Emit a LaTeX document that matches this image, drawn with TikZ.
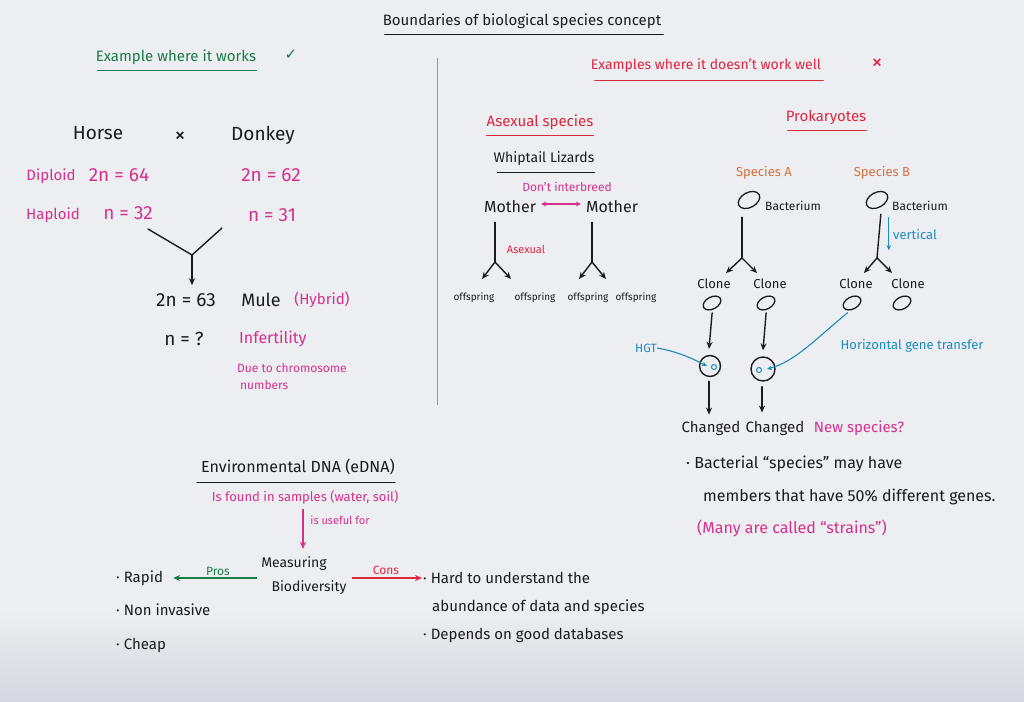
\documentclass[tikz,border=0pt]{standalone}
\usepackage{fontspec}
\setmainfont{Fira Sans}
\newfontfamily\symfont{DejaVu Sans}
\usetikzlibrary{arrows.meta,shapes.geometric,calc}
\definecolor{board}{RGB}{237,238,241}
\definecolor{boardlow}{RGB}{212,215,222}
\definecolor{ink}{RGB}{28,28,32}
\definecolor{pinkink}{RGB}{214,48,140}
\definecolor{grn}{RGB}{28,122,72}
\definecolor{redink}{RGB}{222,38,62}
\definecolor{orng}{RGB}{216,112,62}
\definecolor{blueink}{RGB}{28,140,192}
\definecolor{divider}{RGB}{150,150,155}
\begin{document}
\begin{tikzpicture}[x=1pt,y=-1pt,
  lbl/.style={inner sep=0pt, text=ink, font=\fontsize{#1}{#1}\selectfont},
  ln/.style={line width=1.4pt, draw=ink, line cap=round},
  arr/.style={ln, -{Stealth[length=7pt,width=6pt]}},
  uline/.style={line width=1.2pt, line cap=round},
  cell/.style={draw=ink, line width=1.3pt, ellipse, inner sep=0pt, minimum width=19pt, minimum height=12pt, rotate=28},
  ring/.style={draw=ink, line width=1.4pt, circle, inner sep=0pt},
  barr/.style={draw=blueink, line width=1.1pt, -{Stealth[length=5pt,width=4.5pt]}},
  dot/.style={draw=blueink, line width=1pt, circle, inner sep=0pt, minimum size=5pt}]
\useasboundingbox (0,0) rectangle (1024,701);
\fill[board] (0,0) rectangle (1024,701);
\shade[top color=board, bottom color=boardlow] (0,610) rectangle (1024,701);

% title
\node[lbl=15] (title) at (522,21) {Boundaries of biological species concept};
\draw[uline, ink] ($(title.south west)+(2,6)$) -- ($(title.south east)+(2,6)$);
\draw[divider, line width=1pt] (437,58) -- (437,405);

% left: where it works
\node[lbl=15, text=grn] (works) at (176,57) {Example where it works};
\node[inner sep=0pt, text=grn, font=\symfont\fontsize{15}{15}\selectfont] (tick) at (291,55) {✓};
\draw[uline, grn] ($(works.south west)+(2,6)$) -- ($(works.south east)+(0,6)$);

\node[lbl=19] (horse) at (98,133) {Horse};
\node[lbl=22] (cross) at (180,137) {×};
\node[lbl=19] (donkey) at (263,135) {Donkey};
\node[lbl=15, text=pinkink] (dip) at (51,176) {Diploid};
\node[lbl=19, text=pinkink] (h2n) at (119,175) {2n = 64};
\node[lbl=19, text=pinkink] (d2n) at (271,175) {2n = 62};
\node[lbl=15, text=pinkink] (hap) at (53,215) {Haploid};
\node[lbl=19, text=pinkink] (hn) at (128,213) {n = 32};
\node[lbl=19, text=pinkink] (dn) at (272,215) {n = 31};

\coordinate (yl) at (148,229);
\coordinate (yr) at (222,228);
\coordinate (yj) at (192,255);
\node[lbl=19] (mule2n) at (186,300) {2n = 63};
\node[lbl=18] (mule) at (261,300) {Mule};
\node[lbl=15, text=pinkink] (hyb) at (322,300) {(Hybrid)};
\draw[ln] (yl) -- (yj) -- (yr);
\draw[arr] (yj) -- ($(yj |- mule2n.north)+(0,-8)$);
\node[lbl=19] (nq) at (184,339) {n = ?};
\node[lbl=16, text=pinkink, anchor=west] (inf) at (239,339) {Infertility};
\node[lbl=12, text=pinkink, anchor=west] (due) at (237,368) {Due to chromosome};
\node[lbl=12, text=pinkink, anchor=west] (nums) at (240,385) {numbers};

% right header
\node[lbl=14, text=redink] (notwork) at (706,66) {Examples where it doesn’t work well};
\node[lbl=22, text=redink] (crossx) at (877,64) {×};
\draw[uline, redink] ($(notwork.south west)+(4,7)$) -- ($(notwork.south east)+(2,7)$);

% asexual species
\node[lbl=15, text=redink] (asex) at (540,122) {Asexual species};
\draw[uline, redink] ($(asex.south west)+(0,6)$) -- ($(asex.south east)+(0,6)$);
\node[lbl=14] (whip) at (544,159) {Whiptail Lizards};
\draw[uline, ink] ($(whip.south west)+(4,6)$) -- ($(whip.south east)+(0,6)$);
\node[lbl=12, text=pinkink] (noint) at (567,187) {Don’t interbreed};
\node[lbl=16] (m1) at (510,207) {Mother};
\node[lbl=16] (m2) at (612,207) {Mother};
\draw[pinkink, line width=1.4pt, {Stealth[length=5pt,width=5pt]}-{Stealth[length=5pt,width=5pt]}] ($(m1.east)+(5,-3)$) -- ($(m2.west)+(-5,-3)$);

\node[lbl=10] (o1) at (474,298) {offspring};
\node[lbl=10] (o2) at (535,298) {offspring};
\node[lbl=10] (o3) at (588,298) {offspring};
\node[lbl=10] (o4) at (636,298) {offspring};
\coordinate (j1) at (495,262);
\coordinate (j2) at (592,262);
\coordinate (a1) at (482,279);
\coordinate (a2) at (511,279);
\coordinate (a3) at (579,279);
\coordinate (a4) at (606,279);
\draw[ln] ($(m1.south -| j1)+(0,9)$) -- (j1);
\draw[ln] ($(m2.south -| j2)+(0,9)$) -- (j2);
\draw[arr] (j1) -- (a1);
\draw[arr] (j1) -- (a2);
\draw[arr] (j2) -- (a3);
\draw[arr] (j2) -- (a4);
\node[lbl=11, text=redink] (asexl) at (526,249) {Asexual};

% prokaryotes
\node[lbl=15, text=redink] (prok) at (826,117) {Prokaryotes};
\draw[uline, redink] ($(prok.south west)+(2,6)$) -- ($(prok.south east)+(0,6)$);
\node[lbl=13, text=orng] (spa) at (764,173) {Species A};
\node[lbl=13, text=orng] (spb) at (882,173) {Species B};
\node[cell, minimum width=23pt, minimum height=15pt] (bA) at (749,200) {};
\node[cell, minimum width=23pt, minimum height=15pt] (bB) at (877,200) {};
\node[lbl=12] (bacA) at (793,206) {Bacterium};
\node[lbl=12] (bacB) at (920,206) {Bacterium};

\coordinate (jA) at (742,258);
\coordinate (jB) at (877,258);
\draw[ln] ($(bA.south -| jA)+(0,10)$) -- (jA);
\draw[ln] ($(bB.south)+(0,7)$) -- (jB);
\coordinate (cA1) at (726,273);
\coordinate (cA2) at (757,273);
\coordinate (cB1) at (864,273);
\coordinate (cB2) at (892,273);
\draw[arr] (jA) -- (cA1);
\draw[arr] (jA) -- (cA2);
\draw[arr] (jB) -- (cB1);
\draw[arr] (jB) -- (cB2);
\draw[barr] ($(bB.south)+(8,10)$) -- ++(0,33);
\node[lbl=13, text=blueink] (vert) at (915,235) {vertical};

\node[lbl=13] (cl1) at (714,284) {Clone};
\node[lbl=13] (cl2) at (770,284) {Clone};
\node[lbl=13] (cl3) at (856,284) {Clone};
\node[lbl=13] (cl4) at (908,284) {Clone};
\node[cell] (e1) at (712,303) {};
\node[cell] (e2) at (766,303) {};
\node[cell] (e3) at (852,303) {};
\node[cell] (e4) at (902,303) {};

\node[ring, minimum size=21pt] (c1) at (710,366) {};
\node[ring, minimum size=24pt] (c2) at (763,369) {};
\draw[arr] ($(e1.south)+(-3,4)$) -- ($(c1.north)+(-1,-6)$);
\draw[arr] ($(e2.south)+(-3,4)$) -- ($(c2.north)+(0,-6)$);

\node[lbl=12, text=blueink] (hgt) at (646,348) {HGT};
\node[dot] (d1) at ($(c1.center)+(4,1)$) {};
\node[dot] (d2) at ($(c2.center)+(-4,1)$) {};
\draw[barr] (hgt.east) .. controls (680,352) and (695,360) .. ($(c1.center)+(-3,0)$);
\draw[barr] ($(e3.south west)+(0,2)$) .. controls (820,335) and (795,362) .. ($(c2.center)+(4,0)$);
\node[lbl=13, text=blueink] (hgtl) at (912,346) {Horizontal gene transfer};

\node[lbl=15] (ch1) at (711,428) {Changed};
\node[lbl=15] (ch2) at (775,428) {Changed};
\node[lbl=15, text=pinkink] (newsp) at (859,428) {New species?};
\draw[arr] ($(c1.south)+(-1,4)$) -- ($(ch1.north -| c1.south)+(-1,-6)$);
\draw[arr] ($(c2.south)+(-1,5)$) -- ($(ch2.north -| c2.south)+(-1,-8)$);

\node[lbl=16, anchor=west] (bact1) at (686,464) {· Bacterial “species” may have};
\node[lbl=16, anchor=west] (bact2) at (703,497) {members that have 50\% different genes.};
\node[lbl=16, text=pinkink, anchor=west] (strains) at (697,528) {(Many are called “strains”)};

% eDNA
\node[lbl=16] (edna) at (298,467) {Environmental DNA (eDNA)};
\draw[uline, ink] ($(edna.south west)+(-4,7)$) -- ($(edna.south east)+(0,7)$);
\node[lbl=13, text=pinkink] (found) at (305,497) {Is found in samples (water, soil)};
\node[lbl=14] (meas) at (294,564) {Measuring};
\node[lbl=14] (biod) at (309,588) {Biodiversity};
\draw[pinkink, line width=1.4pt, -{Stealth[length=7pt,width=6pt]}] ($(found.south)+(-2,5)$) -- ($(found.south |- meas.north)+(-2,-8)$);
\node[lbl=11, text=pinkink] (useful) at (340,520) {is useful for};

\node[lbl=15, anchor=west] (rapid) at (116,578) {· Rapid};
\node[lbl=15, anchor=west] (nonin) at (116,610) {· Non invasive};
\node[lbl=15, anchor=west] (cheap) at (116,645) {· Cheap};
\node[lbl=15, anchor=west] (hard) at (423,578) {· Hard to understand the};
\node[lbl=15, anchor=west] (abund) at (432,607) {abundance of data and species};
\node[lbl=15, anchor=west] (dep) at (423,635) {· Depends on good databases};

\draw[grn, line width=1.4pt, -{Stealth[length=7pt,width=6pt]}] ($(meas.west |- rapid.west)+(-4,0)$) -- ($(rapid.east)+(10,0)$);
\node[lbl=12, text=grn] (pros) at (218,571) {Pros};
\draw[redink, line width=1.4pt, -{Stealth[length=7pt,width=6pt]}] ($(biod.east |- hard.west)+(5,0)$) -- ($(hard.west)+(-1,0)$);
\node[lbl=12, text=redink] (cons) at (386,570) {Cons};
\end{tikzpicture}
\end{document}
